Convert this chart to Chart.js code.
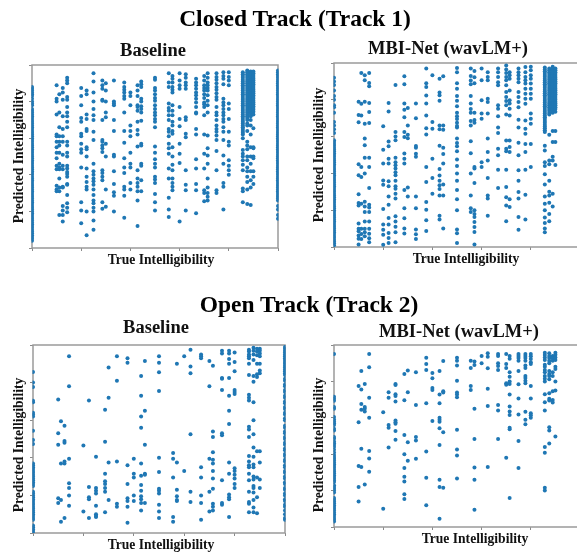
<!DOCTYPE html>
<html>
<head>
<meta charset="utf-8">
<title>Closed and Open Track scatter</title>
<script src="https://cdn.jsdelivr.net/npm/chart.js@4"></script>
<style>
  html, body { margin: 0; padding: 0; background: #fff; }
  #page { position: relative; width: 577px; height: 552px; overflow: hidden; font-family: "Liberation Serif", serif; font-weight: bold; color: #111; filter: blur(0.3px); }
  #page canvas { position: absolute; }
  .label { position: absolute; white-space: nowrap; transform: translate(-50%, -50%); }
  .big { font-size: 23.5px; color: #000; }
  .sub { font-size: 18.5px; }
  .ax { font-size: 13.6px; }
  .ax.rot { transform: translate(-50%, -50%) rotate(-90deg); }
</style>
</head>
<body>
<div id="page"></div>
<script>
// true intelligibility levels, shared by all four panels
const trueLevels = [0, 10, 11.1, 12.5, 14.3, 20, 22.2, 25, 28.6, 30, 33.3, 37.5, 40, 42.9, 44.4, 50, 55.6, 57.1, 60, 62.5, 66.7, 70, 71.4, 75, 77.8, 80, 85.7, 87.5, 88.9, 90, 100];

// predicted values, one list per true level
const closedBaseline = [
  [88,87,86,85,84,83,81.5,80,79,78,76,75,74,73,72,71,70,69,68,67,66,65,64,63,62,61,60,59,58,57,56,55,54,53,52,51,50,49,48,47,46,45,44,43,42,41,40,39,38,37,36,35,34,33,32,31,30,29,28,27,26,25,24,23,22,21,20,19,18,17,16,15,14,13,12,11,10,9,8,7,6,5,4],
  [89,81.5,80,73,62,61,58,55,52,49,45,43,34,32,31],
  [84,74,66,61,58,56,52,46,44,43,38,33,31,18],
  [87.5,85,81,72,65,61,58,51,45,43,33.5,33,23,20.5,18,14.5],
  [93,91.5,90,82.5,81,77,74,72,69,66,58,56,52,50,45,43.5,41.5,40.5,39,35,34.5,29,24.5,22,19.5],
  [87.5,83,78,71,69,62.5,61,57,54,52,44,25,20.5,13.5],
  [86,84,73,70.5,65,64,55,54,50,43.5,39,36,33.5,32,20,7],
  [95.5,91,85,80,76,72.5,70,63.5,59,46,42,40,38,36.5,34.5,32,29,26,24.5,22,20,15,10],
  [91.5,89,87,81,80.5,70,59,58,56,54.5,52.5,42.5,41,39,37,25,21.5],
  [90,86,80,74,71.5,57,50,32,22.5],
  [91.5,80,79,78,70,64,51,50,42,35,30.5,28.5,20],
  [90.5,88,86.5,85,83,81.5,74,64,57.5,49,44,41,33.5,32,28.5,16.5],
  [85,83,78,67,64,61,52,46,44,35.5,32],
  [89,86,83,78,77,75,69,64.5,62,55.5,42.5,38,35.5,33.5,31,26,12],
  [91,89.5,88,81.5,80,77.5,76,74,69.5,57,56,46,45,37,31],
  [93,92,87.5,86,84,82,80.5,78,76,74,72.5,70.5,69,66,55.5,52,48.5,46,44,39,37.5,35.5,29.5,25,20.5],
  [95.5,90.5,88,79,76.5,75,72.5,70,65,63.5,61,57,54.5,51.5,43.5,38,27.5,21,17],
  [94,92.5,90.5,88,86.5,85,78,75,72.5,69,67,64,62.5,55,50,45.5,42.5,38,35.5,33.5,31.5],
  [95.5,91.5,89,87,77,70.5,66.5,57,51.5,46.5,14.5],
  [95,93,90.5,89,87,71.5,70,62.5,60.5,42.5,34.5,31.5,20.5],
  [92.5,90.5,89,87,85,83.5,81.5,79.5,77,74,73.5,65,62,48.5,43.5,35,31.5,19],
  [94,91.5,89,87.5,86,84,82,79.5,78.5,77,72.5,62,51.5,43.5,31.5,30,25.5],
  [95.5,93,90.5,89,87.5,86,83.5,80.5,78,74,61.5,54.5,50.5,46,38,33,30,28,26],
  [95.5,93.5,92,90,88,86.5,84.5,82.5,81,77,74,72.5,70,67,65,63.5,61.5,59,53,42.5,31.5,30],
  [96,94,92.5,89.5,81.5,79.5,78,76,74,72.5,70.5,69,66,63.5,59,50.5,46,35.5,33.5,21],
  [96,93.5,91.5,89,79,76,70.5,63.5,58,56,48,45,42.5,40],
  [96,95,94,93,92,91,90,89,88,87,86,85,84,83,82,81,80,79,78,77,76,75,74,73,72,71,70,69,68,67,66,65,64,63,62,60,53.5,51.5,50,48,45.5,42.5,32.5,31,25],
  [97,96,95,94,93,92,91,90,89,88,87,86,85,84,83,82,81,80,79,78,77,76,75,74,73,72,71,70,68,67,64,58,56,54,50,48,44,42,39,36,32,24],
  [96.5,95.5,94.5,93.5,92.5,91.5,90.5,89.5,88.5,87.5,86.5,85.5,84.5,83.5,82.5,81.5,80.5,79.5,78.5,77.5,76.5,75.5,74.5,73.5,72,70,67,62,55,50,46,42,37,33,23.5],
  [96.5,95.5,94.5,93.5,92.5,91.5,90.5,89.5,88.5,87.5,86.5,85.5,84.5,83.5,82.5,81.5,80.5,79.5,78.5,77.5,76.5,75.5,74.5,73,65.5,55,54.5,50,49,42,39,35],
  [97,96,95,94,93,92,91,90,89,88,87,86,85,84,83,82,81,80,79,78,77,76,75,74,73,72,71,70,69,68,67,66,65,64,63,62,61,60,59,58,57,56,55,54,53,52,51,50,49,48,47,46,45,44,43,42,41,40,39,38,37,36,35,34,33,32,31,30,29,28,27,26,23,21,18,16]
];

const closedWavlm = [
  [92,90,88,85,82,80,77,76,73,68,66,64,62,58,57,56,55,54,53,52,51,50,49,48,47,46,45,44,43,42,41,40,39,38,37,36,35,34,33,32,31,30,29,28,27,26,25,24,23,22,21,20,19,18,17,16,15,14,13,12,11,10,9,8,7,6,5,4,3,2,1],
  [79,71.8,67.8,45,39,28.7,23.9,22.5,12.8,9.9,8.6,6.3,4.5,1.4],
  [94.5,77.9,71.5,43.5,38,23.5,9.9,7,4.3],
  [93.3,90.6,79,67,59,55.3,48.5,40,24.6,22,19,13.8,9.9,8,5.8],
  [94.5,89.1,87.3,78.2,73.4,67.4,48.5,43.5,32.1,23,21.4,19,13.8,9.9,7.2,4.8,2.6],
  [65.6,52.9,45.4,36.2,33.8,20.6,12.2,9.4,6.7,1.2],
  [78.3,73.7,57.4,54.7,48,45.4,35.7,33,27.5,23,15.8,12.2,7.6,4.9,2.2],
  [88,62.5,60,58,48.5,46,44.4,42.6,40.6,39,36,33,31.7,29,26.3,16.7,13.8,11,8,2.6],
  [92.8,88.4,78,74.6,70.5,62.5,59.8,50.8,48,45.4,31,21,15.6,10,7.4],
  [75.5,66,61,59.1,32.4,27.5],
  [78,70,54.9,54,50.7,49,27.4,21,9.5,6.9,4.3],
  [97,89,87,82.4,78,71.5,64.5,61.2,43.5,35.3,24.5,20.3,14.5,8.7],
  [93.3,67.9,64.3,48,37.5,29],
  [91.5,84,82.5,79.5,66,64,55,42.4,38.8,36,33.5,31.5,28,17,15],
  [92.8,66,63.7,54,50.5,45.4,34,28,10],
  [97.3,95,89,86,82,79.5,76.5,73,71,69.5,67.5,65.8,65,59,56.5,54.7,52,47.5,44,40,36,31,26,20,9.5,7.5,2.2],
  [97,93,90.5,88.5,82,78,75,73,68.5,66,57.5,51,40,28,21,19],
  [95.7,92.3,89,73,69,67.5,43.5,42.6,34.8,20,18,16.3,13.6,10.9,8.2,1.3],
  [97,90.6,79.7,72.5,69.7,46,43.5],
  [95,92.4,90.6,80.6,78.8,72.5,58.9,51.6,47,37.5,28,26.3,17],
  [97,95,92.4,89.6,87.9,77,75.2,71,65,62,53.4,49.8,42,32],
  [98.7,96.4,94.5,92.4,90.6,87.9,84.2,81.5,79.3,77,72,57.9,53.4,52,42,32.6,27,22.5,14],
  [95,93.3,91.5,85,79.7,78,75.2,71.5,57.9,54.3,51.6,26,21.7],
  [97,95,93.3,91.5,89.6,84.2,81.5,78.8,76,69.2,64.9,56.7,49.8,41.7,36,29.9,26.3,16.3,9.4],
  [97.8,95,92.4,90.6,88.8,86,83.3,80.6,77.9,68.8,64.3,61.6,56,51.6,42,28.4,14.9],
  [98,96,93.3,91.5,88.8,86,83.3,80.6,72.5,69.7,67,56,43.5],
  [97.5,96.5,95.5,94.5,93.5,92.5,91.5,90.5,89.5,88.5,87.5,86.5,85.5,84.5,83.5,82.5,81.5,80.5,79.5,78.5,77.5,76.5,75.5,74.5,73.5,72.5,71.5,70.5,69.5,68.5,67.5,66.5,65.5,64.5,63.5,62.5,55,52.5,46,44,39.5,34,27.5,23.5,20,16,13,10,8],
  [97,96,95,94,93,92,91,90,89,88,87,86,85,84,83,82,81,80,79,78,77,76,75,74,73,72,61,47,45,36,30,28,24,18,14],
  [98,97,96,95,94,93,92,91,90,89,88,87,86,85,84,83,82,81,80,79,78,77,76,75,74,73,63,57,49,47,29,22],
  [97,96,95,94,93,92,91,90,89,88,87,86,85,84,83,82,81,80,79,78,77,76,75,73.5,63,57,44.5],
  []
];

const openBaseline = [
  [85.6,80,77.6,70.4,69.5,64,63,62,54.4,49.5,47.3,37,36,35,34,33,32,31,30,29,28,27,26,25,22,21,20,19,18,17,16,15,14,13,12,11,10,9,8,7,4,3,2,1,0],
  [71,53,47,18.5,16],
  [59.5,37,17.5,6],
  [57,49,48,38,37,8],
  [94,78,39.5,26.5,24,20,14.5],
  [46.5,11.5],
  [70.5,24.5,19,18,8],
  [40.5,24,22.5,21,14.5,10,9,8.5],
  [65.5,48.5,31.5,27.5,26,24,22,11],
  [88,72,37.5,17.5],
  [94,81,38,15.5,14],
  [93,90.5,36,26,18.5,17,14,5.5],
  [39.5,31.5,29.5,20,17],
  [83.5,73,62,56,37,30.5,25.5,22.5,19.5,18,16,12],
  [91.5,65,47,31.5,31,16],
  [94,90.5,85.5,75.5,40,32.5,23.5,22.5,21,15,11.5,8],
  [42.5,39.5,29.5,8.5,6],
  [90,37.5,23,19.5,17.5,17],
  [94,33],
  [97.5,88.5,85,52.5,22,16.5],
  [95,94,93,35,29.5,20,16,7],
  [91.5,78,39.5,22,11.5],
  [89,54,51,43,39,37,33,29,23.5,15.5,14,12],
  [97,95.5,82.5,82,76,53,52,28,16,15],
  [97,95.5,92.5,90,82.5,73,65,58,37.5,31.5,20.5,19,18,8.5],
  [96,91,86,76,75,74,34.5,33,31,29,26,24],
  [97.5,96.5,95,94,93,90,84,73.5,72,70.5,56.5,55,51,41,38,36,35,31.5,28,22,16.5,15.5,11],
  [98.5,97,95,92,83.5,80.5,69.5,60,52.5,45.5,40.5,36.5,35,30,28.5,25,24,21.5,17.5,13.5,11],
  [98,96.5,94.5,90,84.5,83,43.5,29.5,19,10.5],
  [98,97,95.5,94,90,86.5,85,43.5,37.5,28.5,24],
  [99,98,97,96,95,94,93,92,91,90,89,88,87,86,85,84,82,81,79,78,76,75,73,72,70,69,67,66,64,63,61,60,57,56,54,53,51,50,48,47,45,44,42,41,39,38,36,35,33,32,30,29,27,26,24,23,21,20,18,17,15,14,12,10,8,7]
];

const openWavlm = [
  [95,71.6,70.5,69.4,66,65,60.4,59,58,57,56,54,53,49.5,48.5,47,46,45,44,42.5,41,39.5,38.5,37.5,36.5,35.5,34.5,33.5,32.5,31.5,30.5,29.5,28.5,27.5,26.5,25.5,24.7,23,22,21,20,19,16,15,14,13,12,11,10,9,8,7,6,5,4,3],
  [77.5,57.5,33.5,22,14],
  [85.7,75.5,67.6,64.4,43,33],
  [78.6,66,65,63.5,23.4],
  [95,87.8,71,60,41.7,37.7,30.3],
  [63,10],
  [74,71,56,54.5,43.7],
  [78.6,78,73,72,69,58.5,57.5,56.7,52.7,48],
  [84,69.6,50.5,40,32.4,27.6,25,18,15.4],
  [86,74,46.5,36.4],
  [85,67,49.4,47.5,37.5],
  [93,89.6,86.3,68,41.5,27,12],
  [84.6,81.7,76.4,75.3,58.3],
  [85.7,72.8,68,60,58.9,57.8,54.3,45,26,22,4.6],
  [91.2,74.6,73.9,52,21.6],
  [93,91.4,88.7,80.4,73.9,72.8,71.3,53.4,42.6,39.3,26.7],
  [91.4,87.4,77.5,75.3],
  [91,89,65,48.3,32.7,26,9.5],
  [94,90],
  [95.4,93.6,87.2,76,66.5,33],
  [95,94,90,88.5,86.3,67,64,48.3],
  [95,89.6,87.4,79,78.2,38],
  [94,92.5,85,82.6,80,78.6,72.8,66.2,63.4,61.6,54.5,53.7,16],
  [95,94,92.9,91.4,85.7,78.4,70.6,61.8,47.2,32.4],
  [95,94,92.9,91.4,88.7,87.4,83,81.9,80.4,79,63.3,58.9,56.5],
  [95,93.8,92.3,90.5,89.6,77.5,70.6,62.5,61.4,60],
  [95.8,94.5,93.2,91.8,89.2,88,86.3,85,83,81.4,80,73,68.6,64,43.9,40.8,21.6,20],
  [95.4,94,92.9,91.4,90,85.7,84,83,81.2,73.5,70.4,69.5,54.8,53,45.9],
  [94,92.7,91.4,85,83,74.6,69.8,68.4],
  [95.8,94.7,93.2,91.8,88,86.8,80,75,49.7],
  []
];

const xTitle = 'True Intelligibility';
const yTitle = 'Predicted Intelligibility';

const page = document.getElementById('page');

function addLabel(text, cls, x, y) {
  const d = document.createElement('div');
  d.className = 'label ' + cls;
  d.textContent = text;
  d.style.left = x + 'px';
  d.style.top = y + 'px';
  page.appendChild(d);
}

// grey box round the plot area
const boxPlugin = {
  id: 'box',
  beforeDatasetsDraw(chart) {
    const a = chart.chartArea, c = chart.ctx;
    c.save();
    c.strokeStyle = '#9a9a9a';
    c.lineWidth = 1.5;
    c.strokeRect(a.left, a.top, a.width, a.height);
    c.restore();
  }
};

function drawPanel(values, left, top, width, height) {
  const pad = 6;
  const canvas = document.createElement('canvas');
  canvas.width = width + pad * 2;
  canvas.height = height + pad * 2;
  canvas.style.left = (left - pad) + 'px';
  canvas.style.top = (top - pad) + 'px';
  page.appendChild(canvas);

  const points = [];
  values.forEach(function(col, i) {
    col.forEach(function(v) { points.push({ x: trueLevels[i], y: v }); });
  });

  const axis = {
    type: 'linear', min: 0, max: 100,
    ticks: { display: false, stepSize: 20 },
    grid: { drawOnChartArea: false, drawTicks: true, tickLength: 3, color: '#8a8a8a' },
    border: { display: false }
  };

  new Chart(canvas.getContext('2d'), {
    type: 'scatter',
    data: {
      datasets: [{
        data: points,
        backgroundColor: '#1f77b4',
        borderWidth: 0,
        pointRadius: 2,
        clip: { left: 0.5, right: 0.5, top: 5, bottom: 0 }
      }]
    },
    options: {
      responsive: false,
      animation: false,
      layout: { padding: { left: pad - 3, right: pad, top: pad, bottom: pad - 3 } },
      plugins: { legend: { display: false }, tooltip: { enabled: false } },
      scales: { x: axis, y: axis }
    },
    plugins: [boxPlugin]
  });
}

addLabel('Closed Track (Track 1)', 'big', 295, 18);
addLabel('Open Track (Track 2)', 'big', 309, 304);

addLabel('Baseline', 'sub', 153, 50);
addLabel('MBI-Net (wavLM+)', 'sub', 448, 48);
addLabel('Baseline', 'sub', 156, 327);
addLabel('MBI-Net (wavLM+)', 'sub', 459, 331);

addLabel(xTitle, 'ax', 161, 260);
addLabel(xTitle, 'ax', 466, 259);
addLabel(xTitle, 'ax', 161, 545);
addLabel(xTitle, 'ax', 475, 539);
addLabel(yTitle, 'ax rot', 19, 156);
addLabel(yTitle, 'ax rot', 319, 155);
addLabel(yTitle, 'ax rot', 19, 445);
addLabel(yTitle, 'ax rot', 319, 445);

drawPanel(closedBaseline, 32, 65, 246, 183);
drawPanel(closedWavlm, 334, 63, 246, 184);
drawPanel(openBaseline, 33, 345, 252, 188);
drawPanel(openWavlm, 334, 345, 246, 182);
</script>
</body>
</html>
